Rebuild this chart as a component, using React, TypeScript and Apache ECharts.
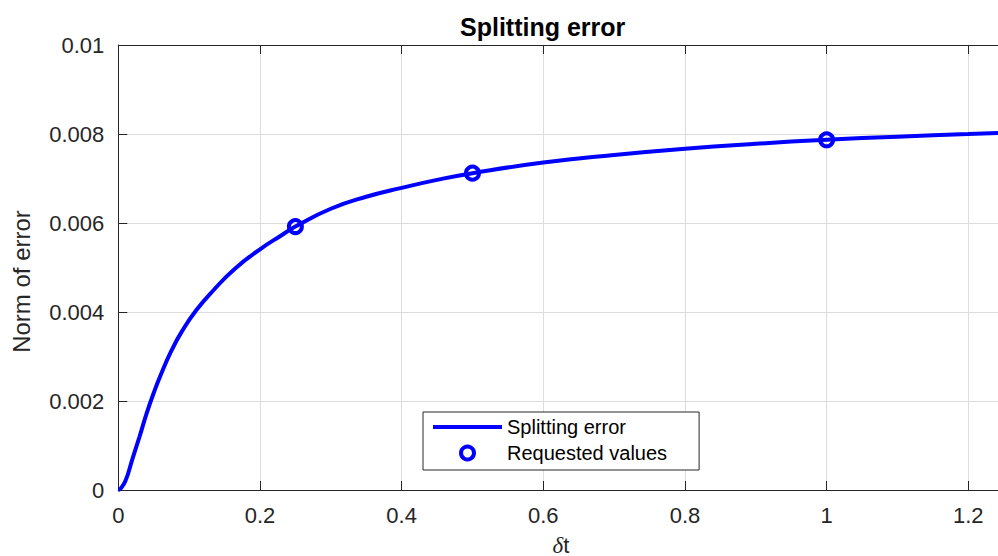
import React, { useEffect, useRef } from "react";
import * as echarts from "echarts";

const curveX = [0, 0.0025, 0.01, 0.02, 0.03, 0.04, 0.05, 0.06, 0.075, 0.09, 0.11, 0.135, 0.165, 0.2, 0.23, 0.25, 0.3, 0.35, 0.4, 0.45, 0.5, 0.6, 0.7, 0.8, 0.9, 1.0, 1.1, 1.2, 1.25];
const curveY = [0, 0.00002, 0.0002, 0.0007, 0.0012, 0.00172, 0.00218, 0.00259, 0.00313, 0.00357, 0.00404, 0.0045, 0.00498, 0.00541, 0.00572, 0.00592, 0.00632, 0.00659, 0.00679, 0.00697, 0.00712, 0.00736, 0.00753, 0.00767, 0.00778, 0.00787, 0.00794, 0.008, 0.00803];
const pointX = [0.25, 0.5, 1];
const pointY = [0.00592, 0.00712, 0.00787];

const SANS = "'Liberation Sans', Arial, Helvetica, sans-serif";
const BLUE = "#0000ff";
const AXIS = "#262626";
const GRID = "#dcdcdc";

export default function App() {
  const ref = useRef<HTMLDivElement>(null);
  useEffect(() => {
    if (!ref.current) return;
    const chart = echarts.init(ref.current, null, { renderer: "svg" });
    const axisCommon = {
      min: 0,
      axisLine: { show: true, lineStyle: { color: AXIS, width: 1 } },
      axisTick: { show: true, inside: true, length: 9, lineStyle: { color: AXIS } },
    };
    chart.setOption({
      animation: false,
      backgroundColor: "#ffffff",
      title: {
        text: "Splitting error",
        left: 455,
        top: 9,
        textStyle: { fontFamily: SANS, fontSize: 25, fontWeight: "bold", color: "#000" },
      },
      grid: { left: 118.3, top: 45, width: 885.4, height: 445, outerBoundsMode: "none", containLabel: false },
      legend: {
        orient: "vertical",
        left: 423,
        top: 412,
        padding: [5, 32, 7, 8],
        itemGap: 6,
        itemWidth: 69,
        itemHeight: 13,
        backgroundColor: "#fff",
        borderColor: AXIS,
        borderWidth: 1,
        borderRadius: 0,
        textStyle: { fontFamily: SANS, fontSize: 20, color: "#000" },
        data: [
          { name: "Splitting error", itemStyle: { opacity: 0 }, lineStyle: { color: BLUE, width: 4 } },
          { name: "Requested values", icon: "circle", itemStyle: { color: "rgba(0,0,0,0)", borderColor: BLUE, borderWidth: 4, opacity: 1 } },
        ],
      },
      xAxis: [
        {
          ...axisCommon,
          type: "value",
          max: 1.25,
          interval: 0.2,
          position: "bottom",
          splitLine: { show: true, lineStyle: { color: GRID, width: 1 } },
          axisLabel: {
            margin: 14,
            fontFamily: SANS,
            fontSize: 22,
            color: AXIS,
            showMaxLabel: false,
            formatter: (v: number) => (Math.abs(v - 1.25) < 1e-9 ? "" : String(+v.toFixed(1))),
          },
          name: "{d|δ}{t|t}",
          nameLocation: "middle",
          nameGap: 44,
          nameTextStyle: {
            lineHeight: 22,
            rich: {
              d: { fontFamily: "'Liberation Serif', 'Times New Roman', serif", fontStyle: "italic", fontSize: 23, lineHeight: 22, color: AXIS },
              t: { fontFamily: SANS, fontSize: 22, lineHeight: 22, color: AXIS },
            },
          },
        },
        {
          ...axisCommon,
          type: "value",
          max: 1.25,
          interval: 0.2,
          position: "top",
          splitLine: { show: false },
          axisLabel: { show: false },
        },
      ],
      yAxis: [
        {
          ...axisCommon,
          type: "value",
          max: 0.01,
          interval: 0.002,
          splitLine: { show: true, lineStyle: { color: GRID, width: 1 } },
          axisLabel: {
            margin: 14,
            fontFamily: SANS,
            fontSize: 22,
            color: AXIS,
            formatter: (v: number) => String(+v.toFixed(3)),
          },
          name: "Norm of error",
          nameLocation: "middle",
          nameRotate: 90,
          nameGap: 85,
          nameTextStyle: { fontFamily: SANS, fontSize: 24, color: AXIS, padding: [0, 28, 0, 0] },
        },
      ],
      series: [
        {
          name: "Splitting error",
          type: "line",
          xAxisIndex: 0,
          data: curveX.map((x, i) => [x, curveY[i]]),
          smooth: 0.5,
          symbol: "none",
          showSymbol: false,
          lineStyle: { color: BLUE, width: 4 },
          itemStyle: { color: BLUE },
          z: 3,
        },
        {
          name: "Requested values",
          type: "scatter",
          xAxisIndex: 0,
          data: pointX.map((x, i) => [x, pointY[i]]),
          symbol: "circle",
          symbolSize: 13,
          itemStyle: { color: "rgba(0,0,0,0)", borderColor: BLUE, borderWidth: 4, opacity: 1 },
          z: 4,
        },
      ],
    });
    return () => chart.dispose();
  }, []);
  return (
    <div
      ref={ref}
      style={{ position: "absolute", left: 0, top: 0, width: 998, height: 556, background: "#fff" }}
    />
  );
}
